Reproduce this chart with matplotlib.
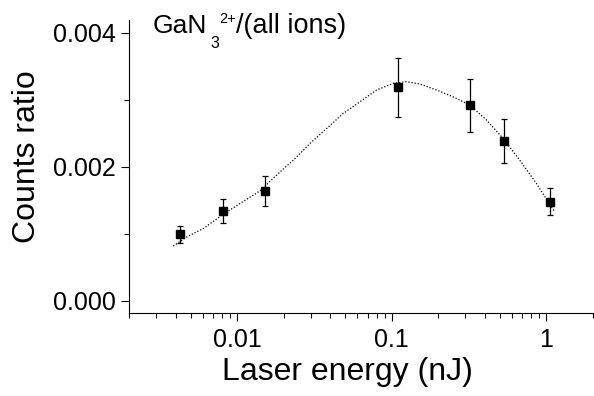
import matplotlib
matplotlib.use("Agg")
import matplotlib.pyplot as plt
from matplotlib.ticker import MultipleLocator, FixedLocator, LogLocator, NullFormatter

plt.rcParams['font.family'] = ['Liberation Sans', 'DejaVu Sans']

# measured points
energy = [0.0043, 0.0081, 0.0152, 0.110, 0.320, 0.536, 1.05]
ratio = [0.000996, 0.001339, 0.001637, 0.003185, 0.002916, 0.002388, 0.001478]
err_hi = [0.00112, 0.00152, 0.00186, 0.00362, 0.00331, 0.002707, 0.001678]
err_lo = [0.000857, 0.001155, 0.00141, 0.002746, 0.002518, 0.00206, 0.001275]

# dotted fit curve
fit_x = [0.003865, 0.004757, 0.006088, 0.0080, 0.0105, 0.01414, 0.01623, 0.01903,
         0.02318, 0.02971, 0.03806, 0.04872, 0.06243, 0.07998, 0.1024, 0.1249,
         0.1523, 0.1951, 0.2496, 0.3200, 0.4102, 0.5248, 0.6725, 0.8620, 1.131]
fit_y = [0.000816, 0.000955, 0.001081, 0.001279, 0.001454, 0.001642, 0.001776, 0.001925,
         0.002100, 0.002349, 0.002573, 0.002797, 0.002970, 0.003145, 0.003245, 0.003269,
         0.003234, 0.003145, 0.003043, 0.002921, 0.002697, 0.002424, 0.002100, 0.001752, 0.001328]

fig = plt.figure(figsize=(5.94, 3.96), dpi=100)
ax = fig.add_axes([0.2172, 0.2096, 0.7808, 0.7399])

ax.plot(fit_x, fit_y, color='black', linestyle=(0, (1, 1.5)), linewidth=0.9)
yerr = [[r - lo for r, lo in zip(ratio, err_lo)], [hi - r for r, hi in zip(ratio, err_hi)]]
ax.errorbar(energy, ratio, yerr=yerr, fmt='s', color='black', markersize=5.8,
            elinewidth=0.9, capsize=2.3, capthick=0.9)

ax.set_xscale('log')
ax.set_xlim(0.002, 2.0)
ax.set_ylim(-0.000184, 0.00419)

ax.spines['top'].set_visible(False)
ax.spines['right'].set_visible(False)

ax.xaxis.set_major_locator(FixedLocator([0.01, 0.1, 1]))
ax.set_xticklabels(['0.01', '0.1', '1'])
ax.xaxis.set_minor_locator(LogLocator(base=10, subs=range(2, 10), numticks=20))
ax.xaxis.set_minor_formatter(NullFormatter())
ax.yaxis.set_major_locator(FixedLocator([0.0, 0.002, 0.004]))
ax.set_yticklabels(['0.000', '0.002', '0.004'])
ax.yaxis.set_minor_locator(MultipleLocator(0.001))

ax.tick_params(which='major', direction='out', length=6, width=0.8, labelsize=18)
ax.tick_params(axis='x', which='major', pad=5)
ax.tick_params(which='minor', direction='out', length=3.5, width=0.8)

ax.set_xlabel('Laser energy (nJ)', fontsize=23)
ax.set_ylabel('Counts ratio', fontsize=23)
ax.xaxis.set_label_coords(0.47, -0.15)
ax.yaxis.set_label_coords(-0.187, 0.535)

# ion label: GaN3^2+ built from pieces
W, H = 594, 396
fig.text(152.5 / W, 1 - 33.3 / H, 'GaN', fontsize=19, va='baseline')
fig.text(210 / W, 1 - 48.3 / H, '3', fontsize=11.5, va='baseline')
fig.text(219 / W, 1 - 23.3 / H, '2+', fontsize=10.5, va='baseline')
fig.text(236 / W, 1 - 33.3 / H, '/(all ions)', fontsize=19.5, va='baseline')

fig.savefig('out.png', dpi=100)
